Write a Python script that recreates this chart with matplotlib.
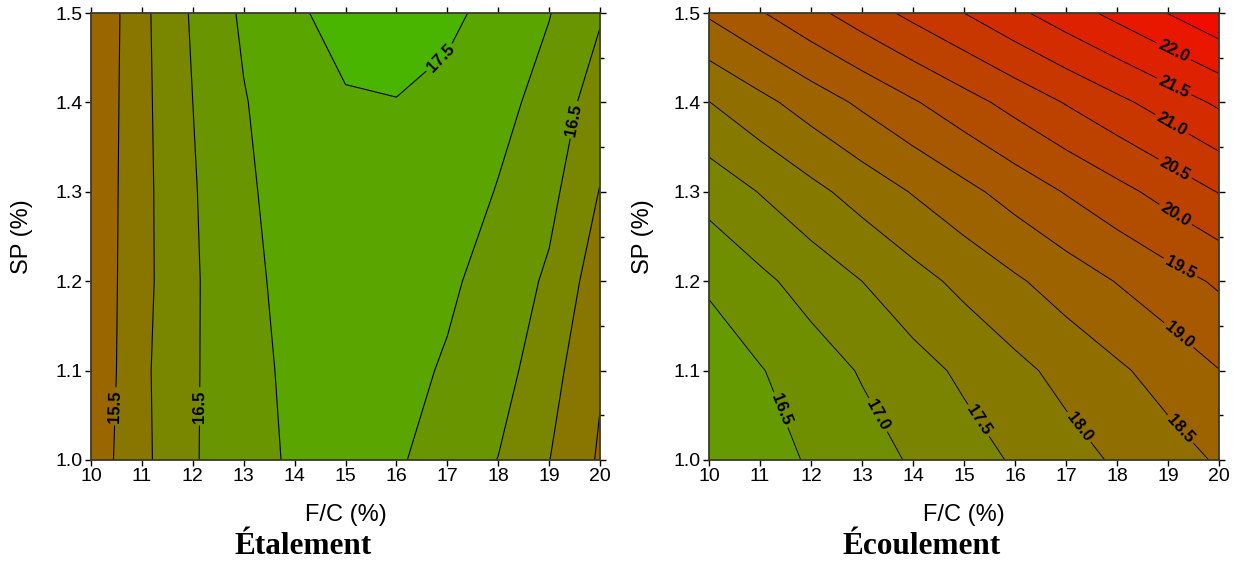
import numpy as np
import matplotlib
matplotlib.use('Agg')
import matplotlib.pyplot as plt
from matplotlib.colors import LinearSegmentedColormap

plt.rcParams['font.family'] = ['Liberation Sans', 'DejaVu Sans']

# grid of the two response surfaces
fc = [10, 11, 12, 13, 14, 15, 16, 17, 18, 19, 20]
sp = [1.0, 1.1, 1.2, 1.3, 1.4, 1.5]

etalement = [
    [15.20, 15.88, 16.46, 16.78, 17.08, 17.30, 17.06, 16.78, 16.49, 16.01, 15.44],
    [15.10, 15.90, 16.45, 16.81, 17.12, 17.34, 17.15, 16.95, 16.71, 16.19, 15.55],
    [15.11, 15.86, 16.44, 16.85, 17.18, 17.40, 17.33, 17.08, 16.81, 16.42, 15.72],
    [15.09, 15.86, 16.46, 16.90, 17.26, 17.46, 17.45, 17.30, 16.97, 16.64, 15.98],
    [15.05, 15.87, 16.50, 16.97, 17.30, 17.47, 17.49, 17.40, 17.16, 16.81, 16.25],
    [15.00, 15.88, 16.56, 17.08, 17.45, 17.62, 17.66, 17.58, 17.38, 17.02, 16.55],
]

ecoulement = [
    [16.05, 16.30, 16.55, 16.80, 17.05, 17.30, 17.55, 17.81, 18.06, 18.30, 18.55],
    [16.19, 16.47, 16.76, 17.04, 17.32, 17.59, 17.87, 18.15, 18.42, 18.70, 18.99],
    [16.58, 16.89, 17.20, 17.50, 17.82, 18.13, 18.43, 18.73, 19.02, 19.30, 19.57],
    [17.19, 17.52, 17.86, 18.20, 18.53, 18.86, 19.20, 19.53, 19.85, 20.18, 20.52],
    [17.99, 18.36, 18.73, 19.09, 19.45, 19.81, 20.17, 20.53, 20.88, 21.23, 21.58],
    [19.07, 19.46, 19.86, 20.25, 20.63, 21.00, 21.39, 21.77, 22.14, 22.51, 22.88],
]

levels_eta = [14.5, 15.0, 15.5, 16.0, 16.5, 17.0, 17.5, 18.0]
levels_eco = [16.0, 16.5, 17.0, 17.5, 18.0, 18.5, 19.0, 19.5, 20.0, 20.5,
              21.0, 21.5, 22.0, 22.5, 23.0]

# where the inline labels sit
lab_eta = [(10.5, 1.06), (12.13, 1.06), (16.86, 1.45), (19.53, 1.38)]
lab_eco = [(11.4, 1.056), (13.3, 1.05), (15.28, 1.044), (17.26, 1.037),
           (19.25, 1.035), (19.17, 1.137), (19.2, 1.211), (19.13, 1.273),
           (19.13, 1.325), (19.09, 1.377), (19.09, 1.414), (19.09, 1.455)]

cmap = LinearSegmentedColormap.from_list('gr', ['#4ab500', '#ff0000'])

fig = plt.figure(figsize=(12.41, 5.65), dpi=100)
ax1 = fig.add_axes([91/1241, 105/565, 509/1241, 447/565])
ax2 = fig.add_axes([709/1241, 105/565, 510/1241, 447/565])

X, Y = np.meshgrid(fc, sp)


def draw(ax, Z, levels, cm, vmin, vmax, labpos, lw, ylab_x):
    ax.contourf(X, Y, Z, levels=levels, cmap=cm, vmin=vmin, vmax=vmax)
    cs = ax.contour(X, Y, Z, levels=levels, colors='black', linewidths=lw)
    txts = ax.clabel(cs, fmt='%.1f', fontsize=12, manual=labpos, inline=True, inline_spacing=3)
    for t in txts:
        t.set_fontweight('bold')
    ax.set_xlim(10, 20)
    ax.set_ylim(1.0, 1.5)
    ax.set_xticks(fc)
    ax.set_yticks(sp)
    ax.set_yticks([1.05, 1.15, 1.25, 1.35, 1.45], minor=True)
    ax.tick_params(axis='both', which='both', direction='out', length=4, width=1,
                   labelsize=14, top=True, right=True, pad=2)
    ax.tick_params(axis='y', which='minor', left=False, length=3)
    ax.set_yticklabels(['%.1f' % v for v in sp])
    for s in ax.spines.values():
        s.set_color('#3a3a2a')
        s.set_linewidth(1.3)
    ax.set_xlabel('F/C (%)', fontsize=17)
    ax.set_ylabel('SP (%)', fontsize=17)
    ax.xaxis.set_label_coords(0.5, -0.123)
    ax.yaxis.set_label_coords(ylab_x, 0.5)
    ax.xaxis.label.set_va('center')
    ax.yaxis.label.set_va('center')


draw(ax1, etalement, levels_eta, cmap.reversed(), 12.0, 17.75, lab_eta, 0.8, -0.136)
draw(ax2, ecoulement, levels_eco, cmap, 15.0, 23.25, lab_eco, 0.65, -0.129)

fig.text(303/1241, 1 - 547/565, 'Étalement', family='Liberation Serif',
         weight='bold', fontsize=22.5, ha='center', va='center')
fig.text(922/1241, 1 - 547/565, 'Écoulement', family='Liberation Serif',
         weight='bold', fontsize=22.5, ha='center', va='center')

plt.savefig('out.png', dpi=100)
